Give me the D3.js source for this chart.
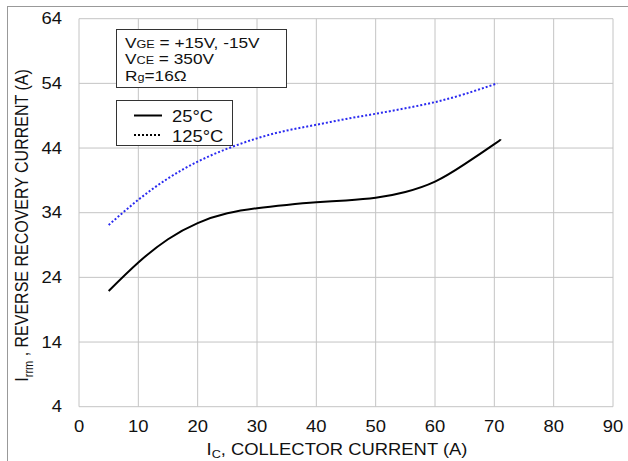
<!DOCTYPE html>
<html><head><meta charset="utf-8">
<script src="https://cdn.jsdelivr.net/npm/d3@7"></script>
<style>body{margin:0;background:#fff}svg{display:block}text{font-family:"Liberation Sans",Arial,sans-serif;fill:#111}</style>
</head><body>
<svg id="c" width="628" height="461"></svg>
<script>
const xTicks = [0,10,20,30,40,50,60,70,80,90];
const yTicks = [4,14,24,34,44,54,64];
const ic25 = [5,10,15,20,25,30,35,40,45,50,55,60,65,70,71.1];
const irr25 = [21.9,26.3,29.9,32.4,33.9,34.7,35.2,35.6,35.9,36.3,37.2,38.8,41.5,44.6,45.35];
const ic125 = [5,10,15,20,25,30,35,40,45,50,55,60,65,70.5];
const irr125 = [32.1,36.0,39.3,41.9,43.9,45.5,46.7,47.6,48.5,49.3,50.15,51.1,52.35,54.0];

const SX = 1.15; // horizontal stretch of the reference text
const svg = d3.select("#c");
const x = d3.scaleLinear().domain([0,90]).range([79,613]);
const y = d3.scaleLinear().domain([4,64]).range([406.7,18.7]);

function txt(px, py, size, anchor){
  return svg.append("text").attr("transform",`translate(${px},${py}) scale(${SX},1)`)
    .attr("font-size",size).attr("text-anchor",anchor||"start");
}

// outer frame (top & left)
svg.append("line").attr("x1",7).attr("x2",628).attr("y1",6.5).attr("y2",6.5).attr("stroke","#999");
svg.append("line").attr("x1",7.5).attr("x2",7.5).attr("y1",6).attr("y2",461).attr("stroke","#999");

// grid
svg.append("g").selectAll("line").data(xTicks).join("line")
  .attr("x1",d=>x(d)).attr("x2",d=>x(d)).attr("y1",y(64)).attr("y2",y(4))
  .attr("stroke","#c4c4c4").attr("stroke-width",1);
svg.append("g").selectAll("line").data(yTicks).join("line")
  .attr("x1",x(0)).attr("x2",x(90)).attr("y1",d=>y(d)).attr("y2",d=>y(d))
  .attr("stroke","#c4c4c4").attr("stroke-width",1);

// tick labels
xTicks.forEach(d=>txt(x(d),431.5,16,"middle").text(d));
yTicks.forEach(d=>txt(62,y(d)+5.7,16,"end").text(d));

// axis titles
const xt = txt(337,455,16,"middle");
xt.append("tspan").text("I");
xt.append("tspan").attr("font-size",11).attr("dy",3).text("C");
xt.append("tspan").attr("dy",-3).text(", COLLECTOR CURRENT (A)");

const yt = svg.append("text").attr("transform",`translate(28,225.5) scale(${SX},1) rotate(-90)`).attr("text-anchor","middle").attr("font-size",16);
yt.append("tspan").text("I");
yt.append("tspan").attr("font-size",11).attr("dy",4).text("rrm");
yt.append("tspan").attr("dy",-4).text(" , REVERSE RECOVERY CURRENT (A)");

// curves
const line = d3.line().x(d=>x(d[0])).y(d=>y(d[1])).curve(d3.curveNatural);
svg.append("path").datum(ic25.map((v,i)=>[v,irr25[i]])).attr("d",line)
  .attr("fill","none").attr("stroke","#000").attr("stroke-width",2);
svg.append("path").datum(ic125.map((v,i)=>[v,irr125[i]])).attr("d",line)
  .attr("fill","none").attr("stroke","#2a2af0").attr("stroke-width",2).attr("stroke-dasharray","2,2");

// conditions box
svg.append("rect").attr("x",116.5).attr("y",29.5).attr("width",170).attr("height",58)
  .attr("fill","#fff").attr("stroke","#333");
const cond = [["V","GE"," = +15V, -15V"],["V","CE"," = 350V"],["R","g","=16Ω"]];
cond.forEach((c,i)=>{
  const t = txt(125,47.5+i*16.8,15);
  t.append("tspan").text(c[0]);
  t.append("tspan").attr("font-size",11).text(c[1]);
  t.append("tspan").text(c[2]);
});

// legend box
svg.append("rect").attr("x",116.5).attr("y",100.5).attr("width",116).attr("height",45)
  .attr("fill","#fff").attr("stroke","#333");
const leg = [{t:"25°C",c:"#000",d:null},{t:"125°C",c:"#000",d:"2,2"}];
leg.forEach((l,i)=>{
  const yy = 115.5+i*19.5;
  svg.append("line").attr("x1",134).attr("x2",162).attr("y1",yy).attr("y2",yy)
    .attr("stroke",l.c).attr("stroke-width",2).attr("stroke-dasharray",l.d);
  txt(172,yy+6.5,16).text(l.t);
});
</script>
</body></html>
